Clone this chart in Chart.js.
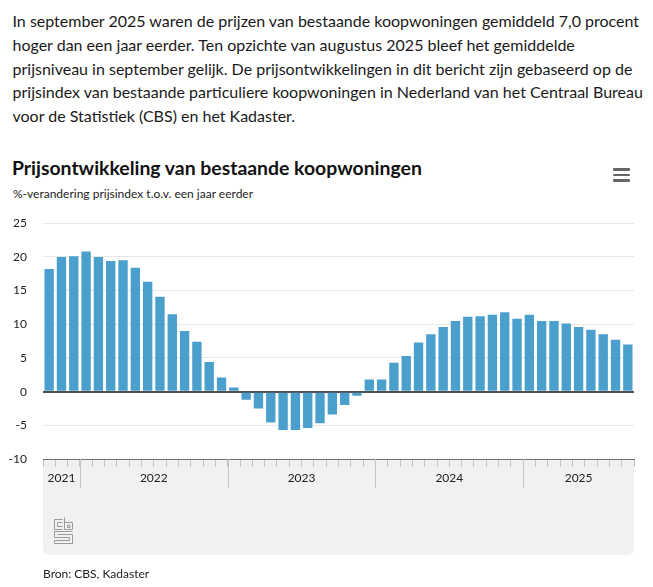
<!DOCTYPE html>
<html lang="nl">
<head>
<meta charset="utf-8">
<script src="https://cdn.jsdelivr.net/npm/chart.js@4/dist/chart.umd.min.js"></script>
<style>
  html, body { margin: 0; padding: 0; background: #fff; }
  body { width: 653px; height: 587px; position: relative; overflow: hidden; font-family: Lato, "Noto Sans", sans-serif; color: #1a1a1a; }
  #intro { position: absolute; left: 12.5px; top: 9px; font-size: 16px; line-height: 23.8px; white-space: nowrap; color: #1a1a1a; }
  #title { position: absolute; left: 12px; top: 155.5px; font-size: 19.4px; font-weight: 700; line-height: 1.2; white-space: nowrap; color: #111; }
  #subtitle { position: absolute; left: 13px; top: 187px; font-size: 12px; line-height: 1.2; white-space: nowrap; color: #222; }
  #menu { position: absolute; left: 613px; top: 168px; width: 17px; }
  #menu div { height: 2.6px; background: #666; margin-bottom: 3.1px; border-radius: 1px; }
  #wrap { position: absolute; left: 0; top: 200px; width: 653px; height: 387px; }
  #source { position: absolute; left: 43px; top: 567px; font-size: 12px; line-height: 1.2; color: #222; white-space: nowrap; }
</style>
</head>
<body>
<div id="intro">In september 2025 waren de prijzen van bestaande koopwoningen gemiddeld 7,0 procent<br>hoger dan een jaar eerder. Ten opzichte van augustus 2025 bleef het gemiddelde<br>prijsniveau in september gelijk. De prijsontwikkelingen in dit bericht zijn gebaseerd op de<br>prijsindex van bestaande particuliere koopwoningen in Nederland van het Centraal Bureau<br>voor de Statistiek (CBS) en het Kadaster.</div>
<div id="title">Prijsontwikkeling van bestaande koopwoningen</div>
<div id="subtitle">%-verandering prijsindex t.o.v. een jaar eerder</div>
<div id="menu"><div></div><div></div><div></div></div>
<div id="wrap"><canvas id="c" width="653" height="387" style="width:653px;height:387px"></canvas></div>
<div id="source">Bron: CBS, Kadaster</div>
<script>
// ---- data ----
const months = [
  '2021-10','2021-11','2021-12',
  '2022-01','2022-02','2022-03','2022-04','2022-05','2022-06','2022-07','2022-08','2022-09','2022-10','2022-11','2022-12',
  '2023-01','2023-02','2023-03','2023-04','2023-05','2023-06','2023-07','2023-08','2023-09','2023-10','2023-11','2023-12',
  '2024-01','2024-02','2024-03','2024-04','2024-05','2024-06','2024-07','2024-08','2024-09','2024-10','2024-11','2024-12',
  '2025-01','2025-02','2025-03','2025-04','2025-05','2025-06','2025-07','2025-08','2025-09'
];
const priceChange = [
  18.2, 20.0, 20.1,
  20.8, 20.0, 19.4, 19.5, 18.4, 16.3, 14.1, 11.5, 9.0, 7.4, 4.4, 2.1,
  0.6, -1.2, -2.5, -4.6, -5.7, -5.7, -5.4, -4.7, -3.4, -2.0, -0.6, 1.8,
  1.8, 4.3, 5.3, 7.3, 8.5, 9.6, 10.5, 11.1, 11.2, 11.4, 11.8, 10.8,
  11.4, 10.5, 10.5, 10.1, 9.6, 9.2, 8.5, 7.7, 7.0
];
const years = ['2021', '2022', '2023', '2024', '2025'];
const yMin = -10, yMax = 25, yStep = 5;

// ---- plugin: grey panel, year labels, separators, logo ----
const PANEL_H = 96;
const panelPlugin = {
  id: 'panel',
  beforeDraw(chart) {
    const {ctx, chartArea: ca} = chart;
    const x0 = ca.left, x1 = ca.right, y0 = ca.bottom, y1 = ca.bottom + PANEL_H, r = 7;
    ctx.save();
    ctx.fillStyle = '#f1f1f1';
    ctx.beginPath();
    ctx.moveTo(x0, y0);
    ctx.lineTo(x1, y0);
    ctx.lineTo(x1, y1 - r);
    ctx.quadraticCurveTo(x1, y1, x1 - r, y1);
    ctx.lineTo(x0 + r, y1);
    ctx.quadraticCurveTo(x0, y1, x0, y1 - r);
    ctx.closePath();
    ctx.fill();
    ctx.restore();
  },
  afterDraw(chart) {
    const {ctx, chartArea: ca} = chart;
    const xs = chart.scales.x;
    const half = (xs.getPixelForValue(1) - xs.getPixelForValue(0)) / 2;
    ctx.save();
    years.forEach((yr, gi) => {
      let first = -1, last = -1;
      months.forEach((m, i) => { if (m.startsWith(yr)) { if (first < 0) first = i; last = i; } });
      const left = xs.getPixelForValue(first) - half;
      const right = xs.getPixelForValue(last) + half;
      if (gi > 0) {
        ctx.strokeStyle = '#c4c4c4';
        ctx.lineWidth = 1;
        ctx.beginPath();
        const sx = Math.round(left) + 0.5;
        ctx.moveTo(sx, ca.bottom);
        ctx.lineTo(sx, ca.bottom + 29);
        ctx.stroke();
      }
      ctx.fillStyle = '#222';
      ctx.font = '12px Lato, "Noto Sans", sans-serif';
      ctx.textAlign = 'center';
      ctx.textBaseline = 'middle';
      ctx.fillText(yr, (left + right) / 2, ca.bottom + 19.5);
    });
    // cbs logo
    const lx = ca.left + 11.5, ly = ca.bottom + 58.5;
    ctx.strokeStyle = '#9a9a9a';
    ctx.lineWidth = 1;
    ctx.beginPath();
    ctx.moveTo(lx + 8, ly + 2); ctx.lineTo(lx, ly + 2); ctx.lineTo(lx, ly + 12); ctx.lineTo(lx + 8, ly + 12);
    ctx.moveTo(lx + 8, ly + 5); ctx.lineTo(lx + 3, ly + 5); ctx.lineTo(lx + 3, ly + 9); ctx.lineTo(lx + 8, ly + 9);
    ctx.moveTo(lx + 10, ly); ctx.lineTo(lx + 10, ly + 12); ctx.lineTo(lx + 18, ly + 12); ctx.lineTo(lx + 18, ly + 5); ctx.lineTo(lx + 10, ly + 5);
    ctx.rect(lx + 13, ly + 7.5, 2.5, 2.5);
    ctx.moveTo(lx + 18, ly + 14); ctx.lineTo(lx, ly + 14); ctx.lineTo(lx, ly + 20); ctx.lineTo(lx + 15, ly + 20); ctx.lineTo(lx + 15, ly + 23); ctx.lineTo(lx, ly + 23); ctx.lineTo(lx, ly + 26); ctx.lineTo(lx + 18, ly + 26); ctx.lineTo(lx + 18, ly + 17); ctx.lineTo(lx + 3, ly + 17);
    ctx.stroke();
    ctx.restore();
  }
};

new Chart(document.getElementById('c'), {
  type: 'bar',
  data: {
    labels: months,
    datasets: [{
      data: priceChange,
      backgroundColor: '#4a9fcd',
      borderWidth: 0,
      barPercentage: 1,
      categoryPercentage: 0.76
    }]
  },
  options: {
    responsive: false,
    animation: false,
    layout: { padding: { top: 18, right: 19, bottom: 32, left: 0 } },
    plugins: { legend: { display: false }, tooltip: { enabled: false } },
    scales: {
      x: {
        offset: true,
        afterFit(s) { s.height = PANEL_H; },
        ticks: { display: false },
        grid: { offset: true, drawOnChartArea: false, drawTicks: true, tickLength: 8, color: '#c4c4c4', lineWidth: 1 },
        border: { display: true, color: '#6f6f6f', width: 1 }
      },
      y: {
        min: yMin, max: yMax,
        afterFit(s) { s.width = 43; },
        ticks: { stepSize: yStep, padding: 16, color: '#222', font: { family: 'Lato, "Noto Sans", sans-serif', size: 12 } },
        grid: {
          drawTicks: false,
          color: (c) => c.tick && c.tick.value === 0 ? '#4f4f4f' : (c.tick && c.tick.value === yMin ? '#6f6f6f' : '#e6e6e6'),
          lineWidth: (c) => c.tick && c.tick.value === 0 ? 2 : 1
        },
        border: { display: false }
      }
    }
  },
  plugins: [panelPlugin]
});
</script>
</body>
</html>
